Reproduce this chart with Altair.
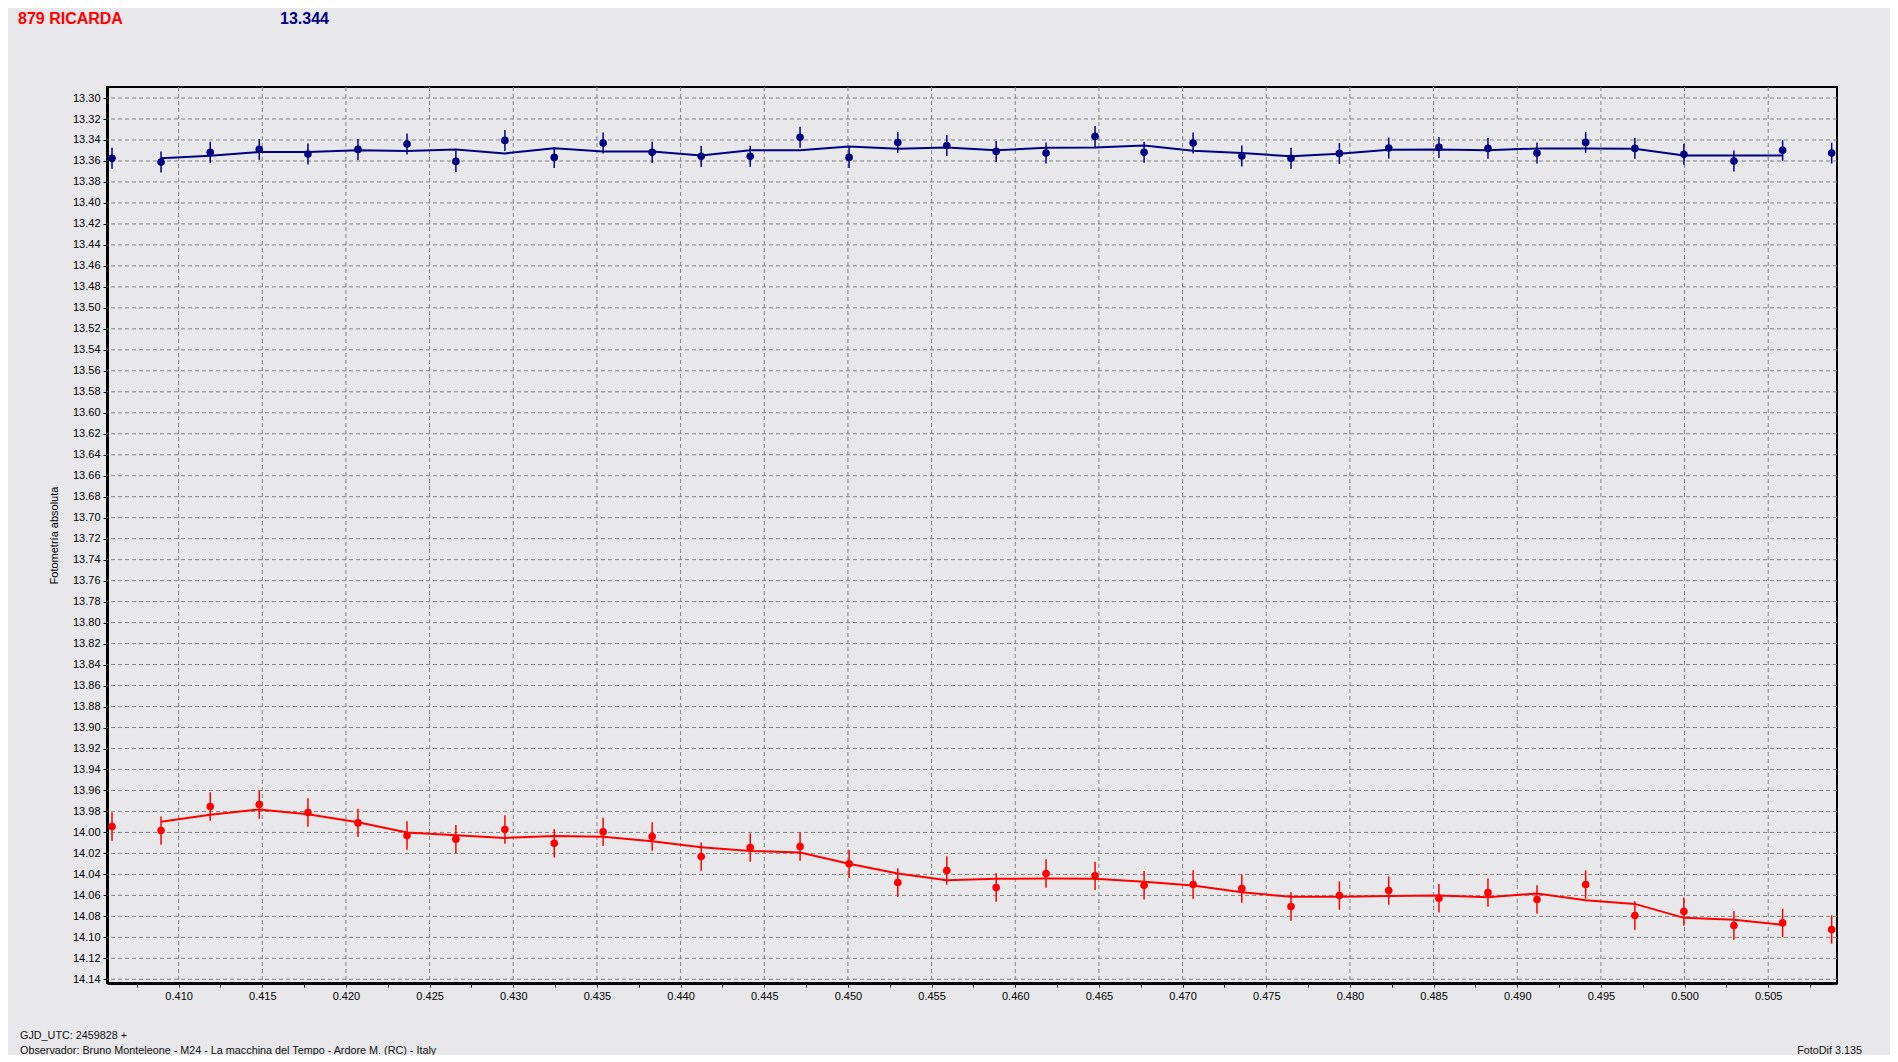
import altair as alt
import pandas as pd

# ---- data ----
phase = [0.40602, 0.40895, 0.41189, 0.41482, 0.41773, 0.42072, 0.42365, 0.42657, 0.42950, 0.43245,
         0.43537, 0.43830, 0.44123, 0.44416, 0.44714, 0.45007, 0.45298, 0.45591, 0.45886, 0.46184,
         0.46477, 0.46770, 0.47063, 0.47354, 0.47648, 0.47937, 0.48232, 0.48532, 0.48825, 0.49118,
         0.49409, 0.49703, 0.49996, 0.50295, 0.50586, 0.50879]

comp_mag = [13.3575, 13.3610, 13.3518, 13.3490, 13.3534, 13.3490, 13.3439, 13.3604, 13.3404, 13.3566,
            13.3429, 13.3518, 13.3556, 13.3556, 13.3375, 13.3566, 13.3423, 13.3452, 13.3509, 13.3525,
            13.3366, 13.3518, 13.3429, 13.3553, 13.3575, 13.3528, 13.3477, 13.3471, 13.3480, 13.3525,
            13.3423, 13.3480, 13.3537, 13.3601, 13.3499, 13.3525]

target_mag = [13.9944, 13.9982, 13.9753, 13.9734, 13.9810, 13.9909, 14.0029, 14.0064, 13.9972, 14.0104,
              13.9994, 14.0039, 14.0230, 14.0144, 14.0134, 14.0299, 14.0477, 14.0363, 14.0525, 14.0391,
              14.0414, 14.0503, 14.0496, 14.0535, 14.0706, 14.0601, 14.0554, 14.0627, 14.0573, 14.0639,
              14.0496, 14.0792, 14.0754, 14.0887, 14.0862, 14.0925]

# smoothed curves, defined from the 2nd to the 35th point
comp_fit = [13.3575, 13.3550, 13.3515, 13.3515, 13.3499, 13.3506, 13.3490, 13.3528, 13.3478,
            13.3509, 13.3509, 13.3547, 13.3499, 13.3499, 13.3461, 13.3483, 13.3471, 13.3499,
            13.3474, 13.3471, 13.3452, 13.3502, 13.3525, 13.3556, 13.3531, 13.3493, 13.3490, 13.3499,
            13.3480, 13.3480, 13.3483, 13.3547, 13.3547, 13.3547]

target_fit = [13.9899, 13.9832, 13.9781, 13.9826, 13.9902, 14.0001, 14.0026, 14.0052, 14.0034,
              14.0042, 14.0083, 14.0141, 14.0176, 14.0191, 14.0299, 14.0391, 14.0455, 14.0442,
              14.0439, 14.0442, 14.0471, 14.0506, 14.0570, 14.0614, 14.0614, 14.0605, 14.0601, 14.0617,
              14.0582, 14.0646, 14.0681, 14.0814, 14.0833, 14.0881]

comp_err = 0.0100
target_err = 0.0135

x_major = [0.410, 0.415, 0.420, 0.425, 0.430, 0.435, 0.440, 0.445, 0.450, 0.455,
           0.460, 0.465, 0.470, 0.475, 0.480, 0.485, 0.490, 0.495, 0.500, 0.505]
x_minor = [0.4075, 0.4125, 0.4175, 0.4225, 0.4275, 0.4325, 0.4375, 0.4425, 0.4475, 0.4525,
           0.4575, 0.4625, 0.4675, 0.4725, 0.4775, 0.4825, 0.4875, 0.4925, 0.4975, 0.5025, 0.5075]
y_ticks = [13.30, 13.32, 13.34, 13.36, 13.38, 13.40, 13.42, 13.44, 13.46, 13.48, 13.50,
           13.52, 13.54, 13.56, 13.58, 13.60, 13.62, 13.64, 13.66, 13.68, 13.70, 13.72,
           13.74, 13.76, 13.78, 13.80, 13.82, 13.84, 13.86, 13.88, 13.90, 13.92, 13.94,
           13.96, 13.98, 14.00, 14.02, 14.04, 14.06, 14.08, 14.10, 14.12, 14.14]

series_names = ["comp", "target"]
series_colors = ["#000080", "#FF0000"]

# ---- tables ----
pts = pd.DataFrame({
    "series": ["comp"] * len(phase) + ["target"] * len(phase),
    "phase": phase + phase,
    "mag": comp_mag + target_mag,
    "err": [comp_err] * len(phase) + [target_err] * len(phase),
})
pts["lo"] = pts["mag"] - pts["err"]
pts["hi"] = pts["mag"] + pts["err"]

fit = pd.DataFrame({
    "series": ["comp"] * len(comp_fit) + ["target"] * len(target_fit),
    "phase": phase[1:1 + len(comp_fit)] + phase[1:1 + len(target_fit)],
    "fit": comp_fit + target_fit,
})

W, H = 1730, 896
BG = "#E8E8EA"
FONT = "Liberation Sans"

xscale = alt.Scale(domain=[0.40572, 0.50911], nice=False, zero=False)
yscale = alt.Scale(domain=[13.2895, 14.1435], reverse=True, nice=False, zero=False)

xaxis = alt.Axis(
    values=sorted(x_major + x_minor),
    labelExpr="round(datum.value*400) % 2 == 0 ? format(datum.value, '.3f') : ''",
    grid=False, title=None, domainColor="black", domainWidth=3,
    tickColor="black", tickSize=4, tickWidth=1,
    labelFont=FONT, labelFontSize=11, labelColor="#000", labelPadding=3,
    labelFlush=False, labelOverlap=False,
)
yaxis = alt.Axis(
    values=y_ticks, format=".2f", grid=False,
    title="Fotometría absoluta", titleFont=FONT, titleFontSize=11,
    titleFontWeight="normal", titleColor="#000", titleX=-48, titleY=H / 2,
    domainColor="black", domainWidth=3, tickColor="black", tickSize=4, tickWidth=1,
    labelFont=FONT, labelFontSize=11, labelColor="#000", labelPadding=3,
    labelFlush=False, labelOverlap=False,
)

color = alt.Color("series:N", scale=alt.Scale(domain=series_names, range=series_colors), legend=None)

hgrid = alt.Chart(pd.DataFrame({"v": y_ticks})).mark_rule(
    color="#808080", strokeDash=[4, 3], strokeWidth=1
).encode(y=alt.Y("v:Q", scale=yscale, axis=yaxis))

vgrid = alt.Chart(pd.DataFrame({"v": x_major})).mark_rule(
    color="#808080", strokeDash=[4, 3], strokeWidth=1
).encode(x=alt.X("v:Q", scale=xscale, axis=xaxis))

errbars = alt.Chart(pts).mark_rule(strokeWidth=1.5).encode(
    x=alt.X("phase:Q", scale=xscale, axis=xaxis),
    y=alt.Y("lo:Q", scale=yscale, axis=yaxis),
    y2="hi:Q",
    color=color,
)

lines = alt.Chart(fit).mark_line(strokeWidth=2).encode(
    x=alt.X("phase:Q", scale=xscale, axis=xaxis),
    y=alt.Y("fit:Q", scale=yscale, axis=yaxis),
    color=color,
)

points = alt.Chart(pts).mark_point(filled=True, shape="circle", size=58, opacity=1).encode(
    x=alt.X("phase:Q", scale=xscale, axis=xaxis),
    y=alt.Y("mag:Q", scale=yscale, axis=yaxis),
    color=color,
)


def label(txt, x, y, size, col, weight="normal", align="left", font=FONT):
    return alt.Chart(pd.DataFrame({"t": [txt]})).mark_text(
        align=align, baseline="middle", fontSize=size, fontWeight=weight, color=col, font=font
    ).encode(text="t:N", x=alt.value(x), y=alt.value(y))


t_name = label("879 RICARDA", -89, -68, 16, "#FF0000", "bold")
t_mag = label("13.344", 173, -68, 16, "#000080", "bold")
f1 = label("GJD_UTC: 2459828 +", -87, 949, 10.8, "#111")
f2 = label("Observador: Bruno Monteleone - M24 - La macchina del Tempo - Ardore M. (RC) - Italy",
           -87, 964, 10.8, "#111")
f3 = label("FotoDif 3.135", 1755, 964, 10.8, "#111", align="right")

chart = alt.layer(hgrid, vgrid, errbars, lines, points, t_name, t_mag, f1, f2, f3).properties(
    width=W, height=H, background=BG,
    padding={"left": 99, "top": 79, "right": 53, "bottom": 72},
    autosize=alt.AutoSizeParams(type="none"),
).configure_view(stroke="black", strokeWidth=2, fill=BG)

chart.save("out.html", embed_options={"renderer": "svg", "actions": False})
